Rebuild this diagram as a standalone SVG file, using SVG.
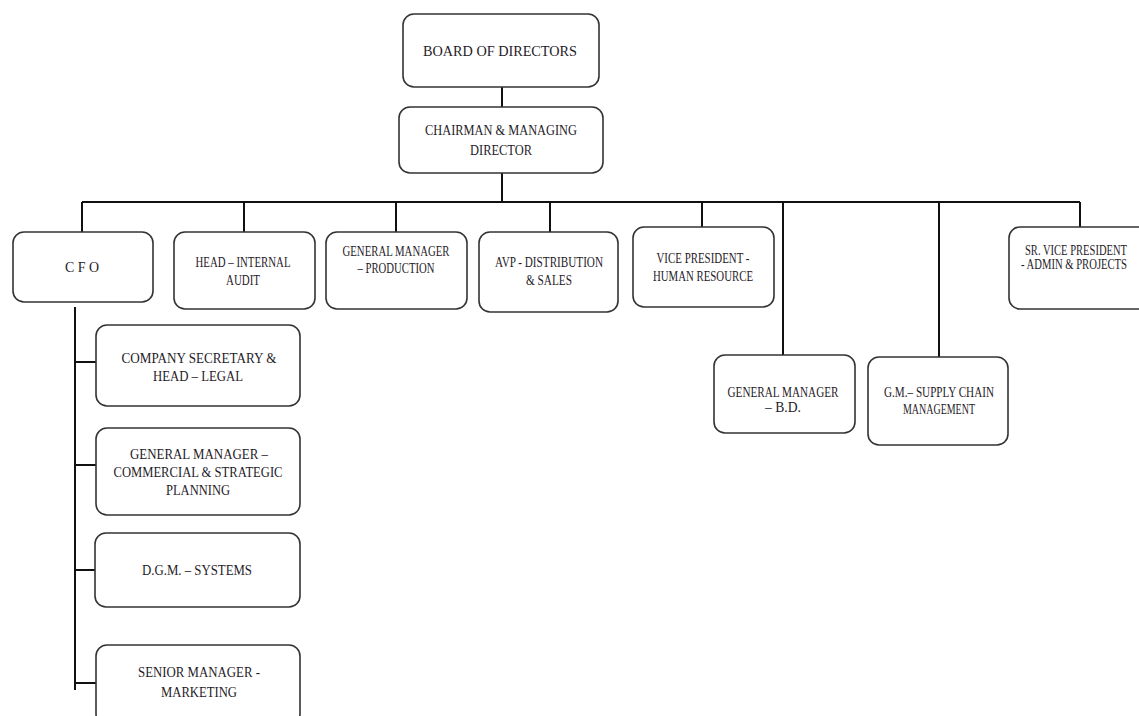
<svg xmlns="http://www.w3.org/2000/svg" width="1139" height="716" viewBox="0 0 1139 716">
<style>
.box{fill:#fff;stroke:#333;stroke-width:1.6}
.ln{stroke:#111;stroke-width:2;fill:none}
text{font-family:"Liberation Serif","Times New Roman",serif;font-size:14.5px;fill:#1f1b28;text-anchor:middle}
</style>
<rect width="1139" height="716" fill="#fff"/>
<g id="connectors">
<path class="ln" d="M502 87V107M502 173V202M82 202H1080M82 202V232M244 202V232M396 202V232M550 202V232M702 202V227M783 202V355M939 202V357M1080 202V227"/>
<path class="ln" d="M75 307V690M75 362H96M75 465H96M75 570H95M75 683H96"/>
</g>
<g id="board"><rect class="box" x="403" y="14" width="196" height="73" rx="11"/><text x="500" y="56" font-size="20" textLength="154" lengthAdjust="spacingAndGlyphs">BOARD OF DIRECTORS</text></g>
<g id="chairman"><rect class="box" x="399" y="107" width="204" height="66" rx="11"/><text x="501" y="135" font-size="15" textLength="152" lengthAdjust="spacingAndGlyphs">CHAIRMAN &amp; MANAGING</text><text x="501" y="155" font-size="15" textLength="62" lengthAdjust="spacingAndGlyphs">DIRECTOR</text></g>
<g id="cfo"><rect class="box" x="13" y="232" width="140" height="70" rx="11"/><text x="82" y="272" textLength="34" lengthAdjust="spacingAndGlyphs">C F O</text></g>
<g id="audit"><rect class="box" x="174" y="232" width="141" height="77" rx="11"/><text x="243" y="267" textLength="95" lengthAdjust="spacingAndGlyphs">HEAD – INTERNAL</text><text x="243" y="285" textLength="34" lengthAdjust="spacingAndGlyphs">AUDIT</text></g>
<g id="production"><rect class="box" x="326" y="232" width="141" height="77" rx="11"/><text x="396" y="256" textLength="107" lengthAdjust="spacingAndGlyphs">GENERAL MANAGER</text><text x="396" y="273" textLength="77" lengthAdjust="spacingAndGlyphs">– PRODUCTION</text></g>
<g id="avp"><rect class="box" x="479" y="232" width="139" height="80" rx="11"/><text x="549" y="267" textLength="108" lengthAdjust="spacingAndGlyphs">AVP - DISTRIBUTION</text><text x="549" y="285" textLength="46" lengthAdjust="spacingAndGlyphs">&amp; SALES</text></g>
<g id="vphr"><rect class="box" x="633" y="227" width="141" height="80" rx="11"/><text x="703" y="263" textLength="93" lengthAdjust="spacingAndGlyphs">VICE PRESIDENT -</text><text x="703" y="281" textLength="100" lengthAdjust="spacingAndGlyphs">HUMAN RESOURCE</text></g>
<g id="srvp"><path class="box" d="M1139 227H1020A11 11 0 0 0 1009 238V298A11 11 0 0 0 1020 309H1139"/><text x="1076" y="255" font-size="11" textLength="102" lengthAdjust="spacingAndGlyphs">SR. VICE PRESIDENT</text><text x="1074" y="269" font-size="11" textLength="106" lengthAdjust="spacingAndGlyphs">- ADMIN &amp; PROJECTS</text></g>
<g id="gmbd"><rect class="box" x="714" y="355" width="141" height="78" rx="11"/><text x="783" y="397" textLength="111" lengthAdjust="spacingAndGlyphs">GENERAL MANAGER</text><text x="783" y="412" textLength="36" lengthAdjust="spacingAndGlyphs">– B.D.</text></g>
<g id="gmscm"><rect class="box" x="868" y="357" width="140" height="88" rx="11"/><text x="939" y="397" textLength="110" lengthAdjust="spacingAndGlyphs">G.M.– SUPPLY CHAIN</text><text x="939" y="414" textLength="72" lengthAdjust="spacingAndGlyphs">MANAGEMENT</text></g>
<g id="cosec"><rect class="box" x="96" y="325" width="204" height="81" rx="11"/><text x="199" y="363" textLength="155" lengthAdjust="spacingAndGlyphs">COMPANY SECRETARY  &amp;</text><text x="198" y="381" textLength="90" lengthAdjust="spacingAndGlyphs">HEAD – LEGAL</text></g>
<g id="commercial"><rect class="box" x="96" y="428" width="204" height="87" rx="11"/><text x="199" y="459" textLength="138" lengthAdjust="spacingAndGlyphs">GENERAL MANAGER –</text><text x="198" y="477" textLength="169" lengthAdjust="spacingAndGlyphs">COMMERCIAL &amp; STRATEGIC</text><text x="198" y="495" textLength="64" lengthAdjust="spacingAndGlyphs">PLANNING</text></g>
<g id="dgm"><rect class="box" x="95" y="533" width="205" height="74" rx="11"/><text x="197" y="575" textLength="110" lengthAdjust="spacingAndGlyphs">D.G.M. – SYSTEMS</text></g>
<g id="marketing"><rect class="box" x="96" y="645" width="204" height="80" rx="11"/><text x="199" y="677" textLength="122" lengthAdjust="spacingAndGlyphs">SENIOR MANAGER -</text><text x="199" y="697" textLength="76" lengthAdjust="spacingAndGlyphs">MARKETING</text></g>
</svg>
